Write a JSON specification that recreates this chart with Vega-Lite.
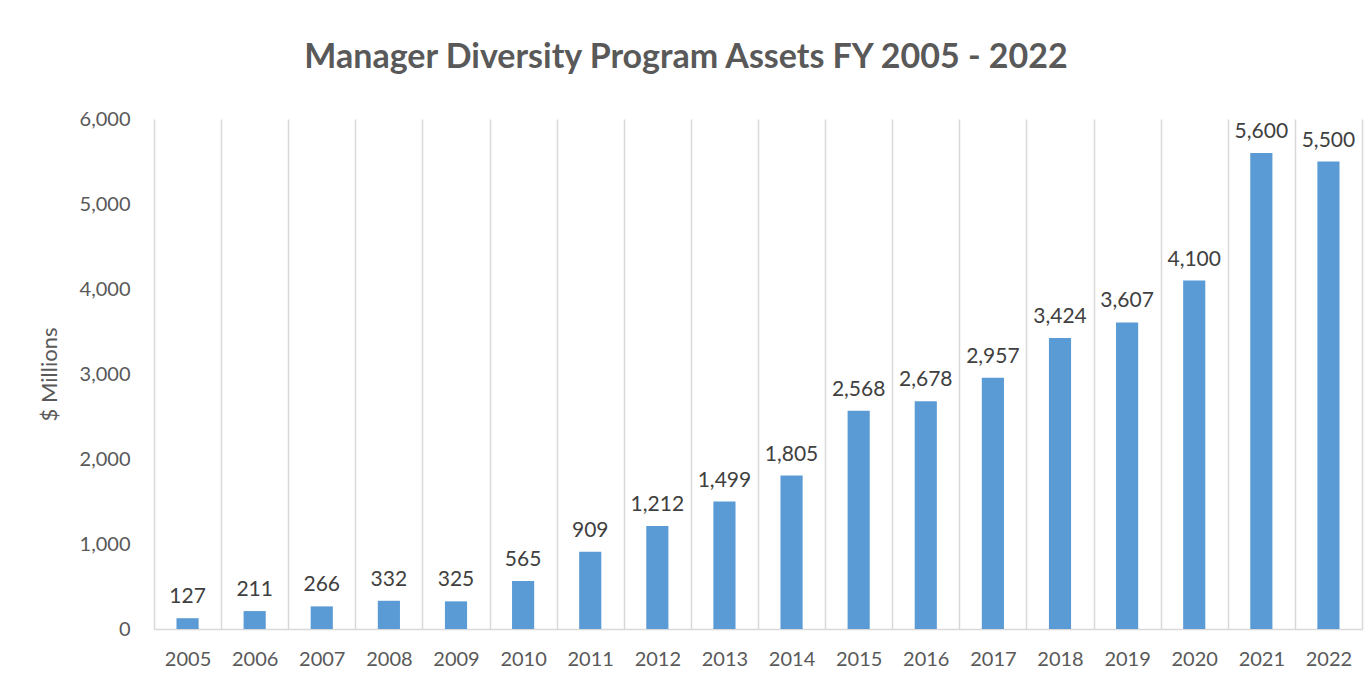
{
  "$schema": "https://vega.github.io/schema/vega-lite/v6.json",
  "width": 1208,
  "height": 510,
  "padding": {"left": 38, "top": 41, "right": 5, "bottom": 5},
  "background": "white",
  "title": {
    "text": "Manager Diversity Program Assets FY 2005 - 2022",
    "font": "Lato",
    "fontSize": 34,
    "fontWeight": "bold",
    "color": "#595959",
    "offset": 34,
    "dx": -72
  },
  "data": {
    "values": [
      {"year": "2005", "assets": 127},
      {"year": "2006", "assets": 211},
      {"year": "2007", "assets": 266},
      {"year": "2008", "assets": 332},
      {"year": "2009", "assets": 325},
      {"year": "2010", "assets": 565},
      {"year": "2011", "assets": 909},
      {"year": "2012", "assets": 1212},
      {"year": "2013", "assets": 1499},
      {"year": "2014", "assets": 1805},
      {"year": "2015", "assets": 2568},
      {"year": "2016", "assets": 2678},
      {"year": "2017", "assets": 2957},
      {"year": "2018", "assets": 3424},
      {"year": "2019", "assets": 3607},
      {"year": "2020", "assets": 4100},
      {"year": "2021", "assets": 5600},
      {"year": "2022", "assets": 5500}
    ]
  },
  "encoding": {
    "x": {
      "field": "year",
      "type": "ordinal",
      "scale": {"paddingInner": 0, "paddingOuter": 0},
      "axis": {
        "title": null,
        "labelAngle": 0,
        "labelFont": "Lato",
        "labelFontSize": 20,
        "labelColor": "#595959",
        "labelPadding": 20,
        "ticks": false,
        "grid": true,
        "tickBand": "extent",
        "gridColor": "#d9d9d9",
        "gridWidth": 1.5,
        "domainColor": "#d9d9d9",
        "domainWidth": 1.5
      }
    },
    "y": {
      "field": "assets",
      "type": "quantitative",
      "scale": {"domain": [0, 6000]},
      "axis": {
        "title": "$ Millions",
        "titleFont": "Lato",
        "titleFontSize": 22,
        "titleFontWeight": "normal",
        "titleColor": "#595959",
        "titlePadding": 18,
        "values": [0, 1000, 2000, 3000, 4000, 5000, 6000],
        "format": ",d",
        "labelFont": "Lato",
        "labelFontSize": 20,
        "labelColor": "#595959",
        "labelPadding": 24,
        "ticks": false,
        "domain": false,
        "grid": false
      }
    }
  },
  "layer": [
    {"mark": {"type": "bar", "color": "#5b9bd5", "width": {"band": 0.33}}},
    {
      "mark": {
        "type": "text",
        "baseline": "bottom",
        "dy": -11,
        "font": "Lato",
        "fontSize": 21,
        "color": "#404040"
      },
      "encoding": {"text": {"field": "assets", "type": "quantitative", "format": ",d"}}
    }
  ],
  "config": {"view": {"stroke": null}}
}
